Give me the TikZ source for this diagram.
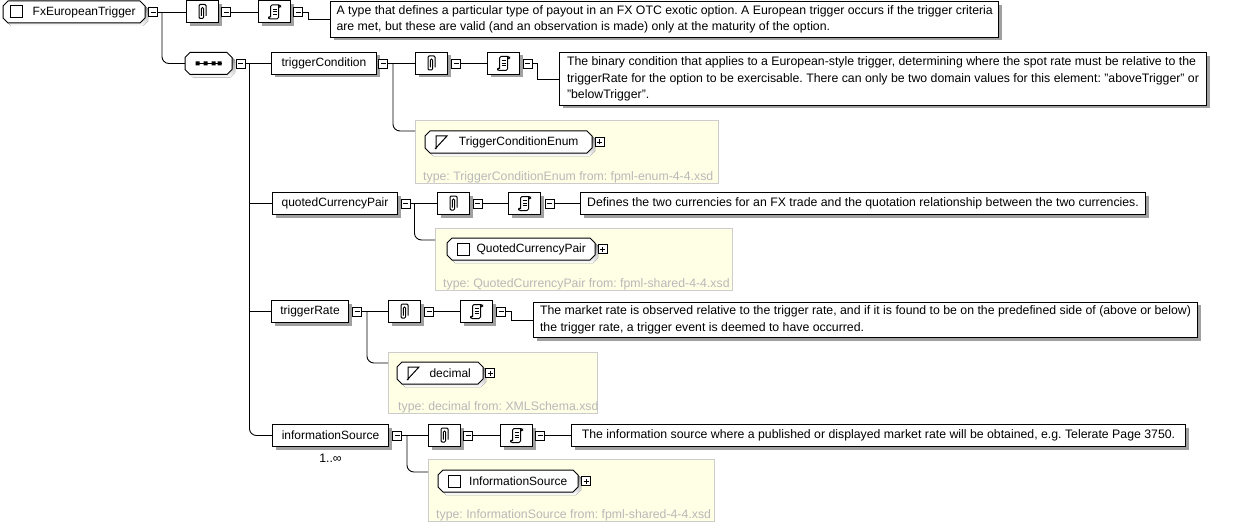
\documentclass[tikz,border=0pt]{standalone}
\usepackage{fontspec}
\setmainfont{Liberation Sans}
\usetikzlibrary{calc,shadows}
\frenchspacing

\definecolor{typebg}{HTML}{FFFFE6}
\definecolor{typeline}{HTML}{CCCCCC}
\definecolor{typetext}{HTML}{B8B8B8}
\definecolor{shade}{HTML}{A0A0A0}

\newcommand{\lblfont}{\fontsize{12}{13}\selectfont}
\newcommand{\docfont}{\fontsize{12.3}{16.5}\selectfont}
\newcommand{\notefont}{\fontsize{12.3}{13}\selectfont}

% chamfered outline with shadow: left x, centre y, width
\newcommand{\chamferbox}[3]{%
  \fill[shade,shift={(3,3)}] (#1+5,#2-11) -- (#1+#3-5,#2-11) -- (#1+#3,#2-6) -- (#1+#3,#2+6) -- (#1+#3-5,#2+11) -- (#1+5,#2+11) -- (#1,#2+6) -- (#1,#2-6) -- cycle;
  \draw[fill=white,line width=1pt] (#1+5,#2-11) -- (#1+#3-5,#2-11) -- (#1+#3,#2-6) -- (#1+#3,#2+6) -- (#1+#3-5,#2+11) -- (#1+5,#2+11) -- (#1,#2+6) -- (#1,#2-6) -- cycle;
}

\tikzset{
  shadowed/.style={drop shadow={shadow xshift=3pt,shadow yshift=-3pt,fill=shade,opacity=1}},
  elem/.style={draw,fill=white,line width=1pt,anchor=west,minimum height=22pt,inner xsep=0pt,inner ysep=0pt,font=\lblfont,shadowed},
  octlabel/.style={anchor=west,minimum height=22pt,inner sep=0pt,font=\lblfont},
  iconbox/.style={draw,fill=white,line width=1pt,anchor=west,minimum width=32pt,minimum height=22pt,inner sep=0pt,shadowed},
  docbox/.style={draw,fill=white,line width=1pt,anchor=west,align=left,font=\docfont,inner xsep=6pt,inner ysep=4pt,minimum height=22pt,shadowed},
  typebox/.style={draw=typeline,fill=typebg,line width=1pt,anchor=north west,inner sep=0pt},
  typenote/.style={anchor=base west,font=\notefont,text=typetext,inner sep=0pt},
  conn/.style={line width=0.9pt},
  minus/.style={draw,fill=white,line width=0.9pt,minimum size=9pt,inner sep=0pt,
    path picture={\draw[line width=0.9pt] ($(path picture bounding box.west)+(2,0)$) -- ($(path picture bounding box.east)+(-2,0)$);}},
  plus/.style={draw,fill=white,line width=0.9pt,minimum size=9pt,inner sep=0pt,
    path picture={\draw[line width=0.9pt] ($(path picture bounding box.west)+(2,0)$) -- ($(path picture bounding box.east)+(-2,0)$)
      ($(path picture bounding box.north)+(0,2)$) -- ($(path picture bounding box.south)+(0,-2)$);}},
  ctypeicon/.pic={\draw[line width=1pt,fill=white] (-6,-6) rectangle (6,6);},
  stypeicon/.pic={\draw[line width=1pt] (-5,7) -- (-5,-6) -- (6,-6) -- (-6,7);},
  seqicon/.pic={\draw[line width=1.2pt] (-13,0) -- (13,0);
    \fill (-13,-2) rectangle (-9,2) (-5,-2) rectangle (-1,2) (3,-2) rectangle (7,2) (9,-2) rectangle (13,2);},
  clipicon/.pic={\draw[line width=1pt,rounded corners=1.2pt] (-1.2,4) -- (-1.2,-4.5) -- (1.2,-4.5) -- (1.2,6.5) -- (-3.5,6.5) -- (-3.5,-7.5) -- (3.5,-7.5) -- (3.5,4);},
  scrollicon/.pic={\draw[line width=1pt,rounded corners=1.5pt] (-4,5.5) -- (-4,-7) -- (6,-7) -- (6,-4.5) -- (4,-4.5);
    \draw[line width=1pt,rounded corners=1.5pt] (4,-7) -- (4,7) -- (-6,7) -- (-6,4.5) -- (-4,4.5);
    \draw[line width=0.9pt] (-2,-3) -- (2,-3) (-2,-0.5) -- (2,-0.5) (-2,2) -- (2,2);}
}

\begin{document}
\begin{tikzpicture}[x=1pt,y=-1pt]
  \useasboundingbox (0,0) rectangle (1247,524);

  % root type
  \chamferbox{3}{12}{142}
  \node[octlabel,minimum width=142pt] (root) at (3,12) {\hspace*{20pt}FxEuropeanTrigger};
  \pic at ($(root.west)+(13,0)$) {ctypeicon};
  \node[minus] (rootm) at (153,12) {};
  \node[iconbox] (ann0) at (186,12) {};
  \pic at (ann0) {clipicon};
  \node[minus] (annm0) at (226,12) {};
  \node[iconbox] (doc0) at (258,12) {};
  \pic at (doc0) {scrollicon};
  \node[minus] (docm0) at (298,12) {};
  \node[docbox,minimum width=650pt] (txt0) at (330,19.5) {A type that defines a particular type of payout in an FX OTC exotic option. A European trigger occurs if the trigger criteria\\are met, but these are valid (and an observation is made) only at the maturity of the option.};
  \draw[conn] (rootm.east) -- (ann0.west);
  \draw[conn] (annm0.east) -- (doc0.west);
  \draw[conn] (docm0.east) -- ++(5,0) |- (txt0.west);

  % sequence
  \chamferbox{185}{63.5}{47}
  \node[octlabel,minimum width=47pt] (seq) at (185,63.5) {};
  \pic at (seq) {seqicon};
  \node[minus] (seqm) at (240.5,63.5) {};
  \coordinate (rj) at ($(rootm.east)+(4,0)$);
  \draw[conn,rounded corners=7pt] (rj) |- (seq.west);

  % triggerCondition
  \node[elem,minimum width=105pt] (tc) at (271,63.5) {triggerCondition};
  \node[minus] (tcm) at (383,63.5) {};
  \node[iconbox] (ann1) at (415,63.5) {};
  \pic at (ann1) {clipicon};
  \node[minus] (annm1) at (456,63.5) {};
  \node[iconbox] (doc1) at (487,63.5) {};
  \pic at (doc1) {scrollicon};
  \node[minus] (docm1) at (527.5,63.5) {};
  \node[docbox,minimum width=647pt] (txt1) at (559,79) {The binary condition that applies to a European-style trigger, determining where the spot rate must be relative to the\\triggerRate for the option to be exercisable. There can only be two domain values for this element: "aboveTrigger" or\\"belowTrigger".};
  \draw[conn] (tcm.east) -- (ann1.west);
  \draw[conn] (annm1.east) -- (doc1.west);
  \draw[conn] (docm1.east) -- ++(5,0) |- (txt1.west);
  \node[typebox,minimum width=303pt,minimum height=63pt] (yel1) at (415,120) {};
  \chamferbox{425}{142}{167}
  \node[octlabel,minimum width=167pt] (tce) at (425,142) {\hspace*{20pt}TriggerConditionEnum};
  \pic at ($(tce.west)+(16,0)$) {stypeicon};
  \node[plus] (tcep) at (599.5,142) {};
  \node[typenote] (tcen) at ($(yel1.south west)+(8,-4)$) {type: TriggerConditionEnum from: fpml-enum-4-4.xsd};
  \coordinate (tj) at ($(tcm.east)+(5,0)$);
  \draw[conn,rounded corners=7pt] (tj) |- ($(yel1.north west)+(0,11)$);

  % quotedCurrencyPair
  \node[elem,minimum width=125pt] (qc) at (272,203.5) {quotedCurrencyPair};
  \node[minus] (qcm) at (405.5,203.5) {};
  \node[iconbox] (ann2) at (437,203.5) {};
  \pic at (ann2) {clipicon};
  \node[minus] (annm2) at (477.5,203.5) {};
  \node[iconbox] (doc2) at (508,203.5) {};
  \pic at (doc2) {scrollicon};
  \node[minus] (docm2) at (549.5,203.5) {};
  \node[docbox,minimum width=565pt] (txt2) at (580,203.5) {Defines the two currencies for an FX trade and the quotation relationship between the two currencies.};
  \draw[conn] (qcm.east) -- (ann2.west);
  \draw[conn] (annm2.east) -- (doc2.west);
  \draw[conn] (docm2.east) -- (txt2.west);
  \node[typebox,minimum width=297pt,minimum height=62pt] (yel2) at (435,228) {};
  \chamferbox{447}{249}{148}
  \node[octlabel,minimum width=148pt] (qce) at (447,249) {\hspace*{20pt}QuotedCurrencyPair};
  \pic at ($(qce.west)+(16,0)$) {ctypeicon};
  \node[plus] (qcep) at (602.5,249) {};
  \node[typenote] (qcen) at ($(yel2.south west)+(8,-4)$) {type: QuotedCurrencyPair from: fpml-shared-4-4.xsd};
  \coordinate (qj) at ($(qcm.east)+(4,0)$);
  \draw[conn,rounded corners=7pt] (qj) |- ($(yel2.north west)+(0,12)$);

  % triggerRate
  \node[elem,minimum width=77pt] (tr) at (271,311.5) {triggerRate};
  \node[minus] (trm) at (357,311.5) {};
  \node[iconbox] (ann3) at (388,311.5) {};
  \pic at (ann3) {clipicon};
  \node[minus] (annm3) at (429,311.5) {};
  \node[iconbox] (doc3) at (460,311.5) {};
  \pic at (doc3) {scrollicon};
  \node[minus] (docm3) at (501,311.5) {};
  \node[docbox,minimum width=664pt] (txt3) at (533,320) {The market rate is observed relative to the trigger rate, and if it is found to be on the predefined side of (above or below)\\the trigger rate, a trigger event is deemed to have occurred.};
  \draw[conn] (trm.east) -- (ann3.west);
  \draw[conn] (annm3.east) -- (doc3.west);
  \draw[conn] (docm3.east) -- ++(5,0) |- (txt3.west);
  \node[typebox,minimum width=209pt,minimum height=61pt] (yel3) at (388,352) {};
  \chamferbox{397}{373}{86}
  \node[octlabel,minimum width=86pt] (dece) at (397,373) {\hspace*{20pt}decimal};
  \pic at ($(dece.west)+(16,0)$) {stypeicon};
  \node[plus] (decep) at (490,373) {};
  \node[typenote] (decen) at ($(yel3.south west)+(10,-4)$) {type: decimal from: XMLSchema.xsd};
  \coordinate (trj) at ($(trm.east)+(5,0)$);
  \draw[conn,rounded corners=7pt] (trj) |- ($(yel3.north west)+(0,11)$);

  % informationSource
  \node[elem,minimum width=116pt] (is) at (272,435.5) {informationSource};
  \node[font=\notefont] (ismult) at ($(is.south)+(0,11)$) {1..∞};
  \node[minus] (ism) at (397,435.5) {};
  \node[iconbox] (ann4) at (428,435.5) {};
  \pic at (ann4) {clipicon};
  \node[minus] (annm4) at (468,435.5) {};
  \node[iconbox] (doc4) at (500,435.5) {};
  \pic at (doc4) {scrollicon};
  \node[minus] (docm4) at (540,435.5) {};
  \node[docbox,minimum width=614pt] (txt4) at (571,435.5) {The information source where a published or displayed market rate will be obtained, e.g. Telerate Page 3750.};
  \draw[conn] (ism.east) -- (ann4.west);
  \draw[conn] (annm4.east) -- (doc4.west);
  \draw[conn] (docm4.east) -- (txt4.west);
  \node[typebox,minimum width=286pt,minimum height=62pt] (yel4) at (428,459) {};
  \chamferbox{438}{481}{140}
  \node[octlabel,minimum width=140pt] (ise) at (438,481) {\hspace*{20pt}InformationSource};
  \pic at ($(ise.west)+(16,0)$) {ctypeicon};
  \node[plus] (isep) at (586,481) {};
  \node[typenote] (isen) at ($(yel4.south west)+(8,-4)$) {type: InformationSource from: fpml-shared-4-4.xsd};
  \coordinate (ij) at ($(ism.east)+(5,0)$);
  \draw[conn,rounded corners=7pt] (ij) |- ($(yel4.north west)+(0,13)$);

  % sequence trunk
  \coordinate (sj) at ($(seqm.east)+(4,0)$);
  \draw[conn] (seqm.east) -- (tc.west);
  \draw[conn,rounded corners=7pt] (sj) |- (is.west);
  \draw[conn] (sj |- qc.west) -- (qc.west);
  \draw[conn] (sj |- tr.west) -- (tr.west);
\end{tikzpicture}
\end{document}
